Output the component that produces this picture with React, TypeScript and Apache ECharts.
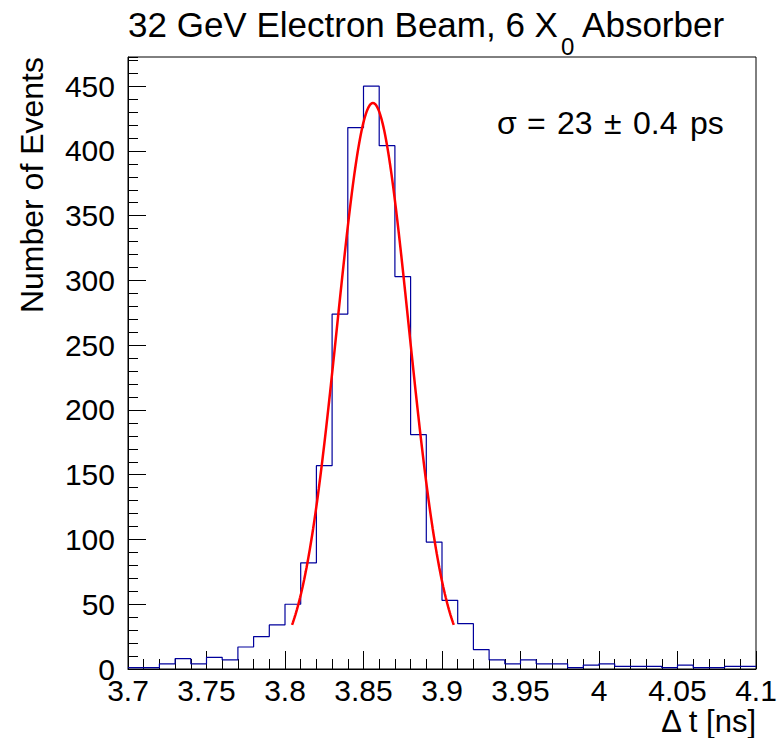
import React, { useEffect, useRef } from "react";
import * as echarts from "echarts";

// Histogram: 40 bins of width 0.01 ns from 3.70 to 4.10
const xMin = 3.7;
const xMax = 4.1;
const binWidth = 0.01;
const binCounts = [
  1, 1, 4, 8, 4, 9, 7, 17, 25, 34,
  50, 82, 157, 274, 418, 450, 404, 303, 181, 98,
  53, 35, 15, 7, 4, 7, 4, 4, 1, 3,
  4, 2, 2, 2, 1, 3, 1, 1, 2, 2,
];
// Gaussian fit parameters (as drawn by the fit)
const fitAmplitude = 437;
const fitMean = 3.856;
const fitSigma = 0.0228;
const fitRange = [3.8045, 3.9075];
const yMax = 472.5;

const titleMain = "32 GeV Electron Beam, 6 X";
const titleSub = "0";
const titleEnd = " Absorber";
const sigmaParts = ["σ", "=", "23", "±", "0.4", "ps"];
const xTitle = "Δ t [ns]";
const yTitle = "Number of Events";

const FONT = '"Liberation Sans", Arial, Helvetica, sans-serif';

function measure(text: string, size: number): number {
  const c = document.createElement("canvas").getContext("2d");
  if (!c) return text.length * size * 0.5;
  c.font = `${size}px "Liberation Sans", Arial, sans-serif`;
  return c.measureText(text).width;
}

export default function App() {
  const ref = useRef<HTMLDivElement>(null);
  useEffect(() => {
    document.body.style.margin = "0";
    if (!ref.current) return;
    const chart = echarts.init(ref.current, undefined, { renderer: "svg" });

    const histPts: number[][] = [];
    binCounts.forEach((v, i) => {
      const lo = +(xMin + i * binWidth).toFixed(4);
      const hi = +(xMin + (i + 1) * binWidth).toFixed(4);
      histPts.push([lo, v], [hi, v]);
    });

    const fitPts: number[][] = [];
    const nFit = 200;
    for (let i = 0; i <= nFit; i++) {
      const x = fitRange[0] + ((fitRange[1] - fitRange[0]) * i) / nFit;
      const y = fitAmplitude * Math.exp(-0.5 * Math.pow((x - fitMean) / fitSigma, 2));
      fitPts.push([x, y]);
    }

    const titleSize = 35;
    const subSize = 24;
    const titleX = 128;
    const w1 = measure(titleMain, titleSize);
    const w2 = measure(titleSub, subSize);

    // x positions of the sigma label pieces (ROOT TLatex spacing)
    const sigmaX = [497, 527, 557, 604, 633, 690];
    const sigmaSize = 32;

    chart.setOption({
      animation: false,
      backgroundColor: "#fff",
      grid: {
        left: 128,
        top: 57,
        width: 628,
        height: 612,
        show: true,
        borderColor: "#000",
        borderWidth: 1,
        backgroundColor: "transparent",
      },
      xAxis: {
        type: "value",
        min: xMin,
        max: xMax,
        interval: 0.05,
        axisLine: { show: true, lineStyle: { color: "#000", width: 1 } },
        axisTick: { show: true, inside: true, length: 18, lineStyle: { color: "#000" } },
        minorTick: { show: true, splitNumber: 5, length: 10, lineStyle: { color: "#000" } },
        splitLine: { show: false },
        axisLabel: {
          show: true,
          fontSize: 30,
          lineHeight: 20,
          fontFamily: FONT,
          color: "#000",
          margin: 11,
          showMinLabel: true,
          showMaxLabel: true,
          formatter: (v: number) => String(+v.toFixed(2)),
        },
      },
      yAxis: [
        {
          type: "value",
          min: 0,
          max: yMax,
          interval: 50,
          position: "left",
          axisLine: { show: true, lineStyle: { color: "#000", width: 1 } },
          axisTick: { show: true, inside: true, length: 18, lineStyle: { color: "#000" } },
          splitLine: { show: false },
          axisLabel: {
            show: true,
            fontSize: 30,
            lineHeight: 16,
            fontFamily: FONT,
            color: "#000",
            margin: 13,
            showMaxLabel: false,
            formatter: (v: number) => (v % 50 === 0 ? String(v) : ""),
          },
        },
        {
          type: "value",
          min: 0,
          max: yMax,
          interval: 10,
          position: "left",
          axisLine: { show: false },
          axisTick: { show: true, inside: true, length: 10, lineStyle: { color: "#000" } },
          splitLine: { show: false },
          axisLabel: { show: false },
        },
      ],
      series: [
        {
          type: "line",
          data: histPts,
          showSymbol: false,
          symbol: "none",
          lineStyle: { color: "#00009c", width: 1.2 },
          z: 2,
        },
        {
          type: "line",
          data: fitPts,
          showSymbol: false,
          symbol: "none",
          smooth: false,
          lineStyle: { color: "#ff0000", width: 2.5 },
          z: 3,
        },
      ],
      graphic: [
        {
          type: "text",
          x: titleX,
          y: 24,
          style: { text: titleMain, fontSize: titleSize, fontFamily: FONT, fill: "#000", align: "left", verticalAlign: "middle" },
        },
        {
          type: "text",
          x: titleX + w1 + 3,
          y: 46,
          style: { text: titleSub, fontSize: subSize, fontFamily: FONT, fill: "#000", align: "left", verticalAlign: "middle" },
        },
        {
          type: "text",
          x: titleX + w1 + 3 + w2,
          y: 24,
          style: { text: titleEnd, fontSize: titleSize, fontFamily: FONT, fill: "#000", align: "left", verticalAlign: "middle" },
        },
        ...sigmaParts.map((t, i) => ({
          type: "text",
          x: sigmaX[i],
          y: 123,
          style: { text: t, fontSize: sigmaSize, fontFamily: FONT, fill: "#000", align: "left", verticalAlign: "middle" },
        })),
        {
          type: "text",
          x: 756,
          y: 721,
          style: { text: xTitle, fontSize: 31, fontFamily: FONT, fill: "#000", align: "right", verticalAlign: "middle" },
        },
        {
          type: "text",
          x: 32,
          y: 57,
          rotation: Math.PI / 2,
          style: { text: yTitle, fontSize: 32, fontFamily: FONT, fill: "#000", align: "right", verticalAlign: "middle" },
        },
      ],
    });
    return () => chart.dispose();
  }, []);
  return (
    <div
      ref={ref}
      style={{ position: "absolute", left: 0, top: 0, width: 784, height: 738, background: "#fff" }}
    />
  );
}
